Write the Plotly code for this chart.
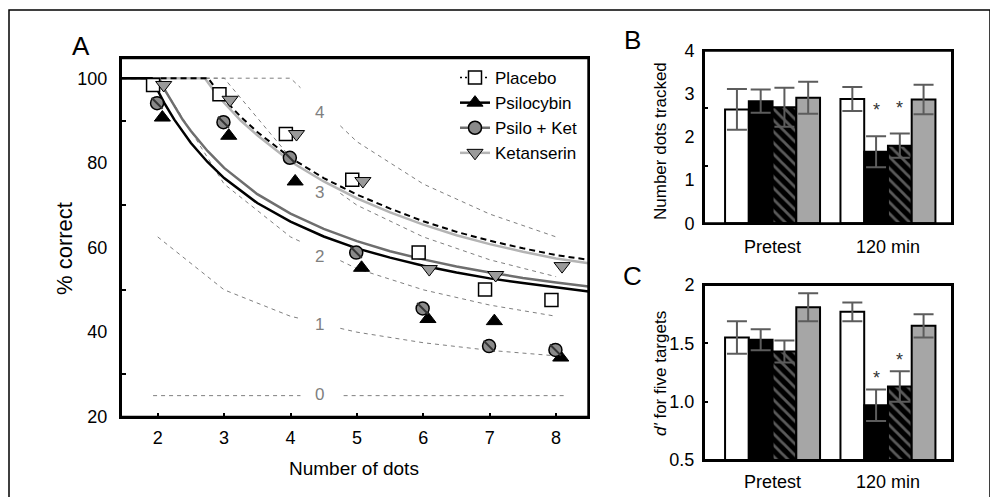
import plotly.graph_objects as go

# The page body has an 8px margin, so the figure is drawn 8px in from the window corner.
OFF = 8
WIN_W, WIN_H = 998, 497
W, H = WIN_W - OFF, WIN_H - OFF
FONT = "Liberation Sans, Arial, sans-serif"

# ---------------- Panel A data ----------------
n_dots = [2, 3, 4, 5, 6, 7, 8]
placebo = [98.4, 96.2, 86.8, 76.0, 58.8, 50.1, 47.6]
psilocybin = [90.7, 86.4, 75.6, 55.2, 43.1, 42.6, 34.0]
psilo_ket = [94.1, 89.6, 81.2, 58.8, 45.6, 36.7, 35.8]
ketanserin = [98.4, 94.9, 86.8, 75.7, 54.9, 53.5, 55.6]

# fitted curves
placebo_fit_x = [1.44, 2.76, 2.9, 3.0, 3.25, 3.5, 4.0, 4.5, 5.0, 5.5, 6.0, 6.5, 7.0, 7.5, 8.0, 8.49]
placebo_fit_y = [100, 100, 97.0, 95.0, 90.9, 87.3, 81.2, 76.4, 72.5, 69.2, 66.2, 63.7, 61.6, 59.8, 58.2, 57.1]
psilocybin_fit_x = [1.44, 1.91, 2.0, 2.1, 2.25, 2.375, 2.5, 2.75, 3.0, 3.5, 4.0, 4.5, 5.0, 5.5, 6.0, 6.5, 7.0, 7.5, 8.0, 8.49]
psilocybin_fit_y = [100, 100, 97.1, 94.1, 90.2, 87.3, 84.7, 80.2, 76.4, 70.5, 66.1, 62.6, 59.8, 57.6, 55.7, 54.1, 52.7, 51.6, 50.5, 49.6]
psilo_ket_fit_x = [1.44, 2.02, 2.1, 2.25, 2.375, 2.5, 2.75, 3.0, 3.5, 4.0, 4.5, 5.0, 5.5, 6.0, 6.5, 7.0, 7.5, 8.0, 8.49]
psilo_ket_fit_y = [100, 100, 97.4, 93.3, 90.2, 87.5, 82.8, 78.8, 72.6, 68.0, 64.4, 61.5, 59.1, 57.2, 55.5, 54.1, 52.8, 51.75, 50.8]
ketanserin_fit_x = [1.44, 2.71, 2.85, 3.0, 3.25, 3.5, 4.0, 4.5, 5.0, 5.5, 6.0, 6.5, 7.0, 7.5, 8.0, 8.49]
ketanserin_fit_y = [100, 100, 97.0, 94.2, 90.0, 86.5, 80.3, 75.6, 71.6, 68.3, 65.4, 62.9, 60.8, 59.0, 57.4, 56.3]

# capacity reference curves (K = 0..4), broken around their labels
cap_x = [2, 3, 4, 4.15, None, 4.75, 5, 6, 7, 8]
cap0_x = [1.93, 4.15, None, 4.8, 8.12]
cap0_y = [25, 25, None, 25, 25]
cap1_y = [62.5, 50.0, 43.75, 43.2, None, 40.9, 40.0, 37.5, 35.7, 34.4]
cap2_y = [100, 75.0, 62.5, 61.4, None, 56.9, 55.0, 50.0, 46.4, 43.75]
cap3_y = [100, 100, 81.25, 79.6, None, 72.8, 70.0, 62.5, 57.1, 53.1]
cap4_y = [100, 100, 100, 97.75, None, 88.75, 85.0, 75.0, 67.9, 62.5]
cap_labels = ["0", "1", "2", "3", "4"]
cap_label_y = [25.2, 41.7, 57.8, 72.9, 91.8]

# ---------------- Panels B / C data ----------------
groups = ["Pretest", "120 min"]
conditions = ["Placebo", "Psilocybin", "Psilo + Ket", "Ketanserin"]
tracked_pre = [2.64, 2.83, 2.69, 2.91]
tracked_pre_err = [0.47, 0.27, 0.45, 0.37]
tracked_120 = [2.88, 1.66, 1.80, 2.87]
tracked_120_err = [0.28, 0.36, 0.28, 0.34]
dprime_pre = [1.55, 1.53, 1.43, 1.81]
dprime_pre_err = [0.14, 0.09, 0.095, 0.12]
dprime_120 = [1.77, 0.97, 1.13, 1.65]
dprime_120_err = [0.08, 0.135, 0.13, 0.10]
significant = [False, True, True, False]  # at 120 min


def fx(x):  # window pixel -> paper fraction
    return (x - OFF) / W


def fy(y):
    return 1 - (y - OFF) / H


# panel boxes in window pixels (left, top, right, bottom)
box_a = (121, 58.3, 588.3, 416.8)
box_b = (704, 50.7, 952, 223.3)
box_c = (704, 285, 952, 460)

fig = go.Figure()

# capacity curves
cap_line = dict(color="#7f7f7f", width=1, dash="4px,4px")
fig.add_trace(go.Scatter(x=cap0_x, y=cap0_y, mode="lines", line=cap_line, showlegend=False, hoverinfo="skip"))
for cy in [cap1_y, cap2_y, cap3_y, cap4_y]:
    fig.add_trace(go.Scatter(x=cap_x, y=cy, mode="lines", line=cap_line, showlegend=False, hoverinfo="skip"))

# fitted curves
fig.add_trace(go.Scatter(x=ketanserin_fit_x, y=ketanserin_fit_y, mode="lines",
                         line=dict(color="#b4b4b4", width=2.5), showlegend=False))
fig.add_trace(go.Scatter(x=placebo_fit_x, y=placebo_fit_y, mode="lines",
                         line=dict(color="black", width=2, dash="6px,4px"), showlegend=False))
fig.add_trace(go.Scatter(x=psilo_ket_fit_x, y=psilo_ket_fit_y, mode="lines",
                         line=dict(color="#6e6e6e", width=2.5), showlegend=False))
fig.add_trace(go.Scatter(x=psilocybin_fit_x, y=psilocybin_fit_y, mode="lines",
                         line=dict(color="black", width=2.5), showlegend=False))

# data markers (small horizontal offsets as in the original)
styles = {
    "Placebo": dict(symbol="square", size=13, color="white", line=dict(color="black", width=1.5)),
    "Psilocybin": dict(symbol="triangle-up", size=14, color="black", line=dict(color="black", width=1)),
    "Psilo + Ket": dict(symbol="circle", size=13, color="#8a8a8a", line=dict(color="black", width=1.5)),
    "Ketanserin": dict(symbol="triangle-down", size=14, color="#9a9a9a", line=dict(color="black", width=1)),
}
offsets = {"Placebo": -0.07, "Psilocybin": 0.07, "Psilo + Ket": -0.01, "Ketanserin": 0.09}
series = {"Placebo": placebo, "Psilocybin": psilocybin, "Psilo + Ket": psilo_ket, "Ketanserin": ketanserin}
for name in conditions:
    xs = [n + offsets[name] for n in n_dots]
    fig.add_trace(go.Scatter(x=xs, y=series[name], mode="markers", marker=styles[name],
                             showlegend=False, name=name))
    if name == "Psilo + Ket":
        fig.add_trace(go.Scatter(x=xs, y=series[name], mode="markers",
                                 marker=dict(symbol="line-nw", size=11, line=dict(color="#333333", width=2)),
                                 showlegend=False, hoverinfo="skip"))

# legend-only entries
leg_lines = {
    "Placebo": dict(color="black", width=1.5, dash="2px,3px"),
    "Psilocybin": dict(color="black", width=2.5),
    "Psilo + Ket": dict(color="#6e6e6e", width=2.5),
    "Ketanserin": dict(color="#b4b4b4", width=2.5),
}
for name in conditions:
    fig.add_trace(go.Scatter(x=[None], y=[None], mode="lines+markers", name=name,
                             line=leg_lines[name], marker=styles[name], showlegend=True))

# bars
bar_fill = {"Placebo": dict(color="white"), "Psilocybin": dict(color="black"),
            "Psilo + Ket": dict(color="black", pattern=dict(shape="\\", bgcolor="black", fgcolor="#b4b4b4",
                                                            size=8, solidity=0.35)),
            "Ketanserin": dict(color="#a6a6a6")}
err_style = dict(type="data", color="#5c5c5c", thickness=2, width=10)
for i, name in enumerate(conditions):
    m = dict(bar_fill[name]); m["line"] = dict(color="black", width=2)
    fig.add_trace(go.Bar(x=[0, 1], y=[tracked_pre[i], tracked_120[i]], marker=m,
                         error_y=dict(err_style, array=[tracked_pre_err[i], tracked_120_err[i]]),
                         xaxis="x2", yaxis="y2", showlegend=False, name=name))
    fig.add_trace(go.Bar(x=[0, 1], y=[dprime_pre[i], dprime_120[i]], marker=m,
                         error_y=dict(err_style, array=[dprime_pre_err[i], dprime_120_err[i]]),
                         xaxis="x3", yaxis="y3", showlegend=False, name=name))

ann = []
for lab, ly in zip(cap_labels, cap_label_y):
    ann.append(dict(x=4.44, y=ly, xref="x", yref="y", text=lab, showarrow=False,
                    xanchor="center", yanchor="middle", font=dict(size=17, color="#7f7f7f")))
bar_w = (1 - 0.177) / 4
for i, name in enumerate(conditions):
    if significant[i]:
        xo = 1 + (i - 1.5) * bar_w
        ann.append(dict(x=xo, y=tracked_120[i] + tracked_120_err[i], xref="x2", yref="y2", text="*",
                        showarrow=False, yshift=26, xanchor="center", yanchor="middle",
                        font=dict(size=18, color="#333")))
        ann.append(dict(x=xo, y=dprime_120[i] + dprime_120_err[i], xref="x3", yref="y3", text="*",
                        showarrow=False, yshift=11, xanchor="center", yanchor="middle",
                        font=dict(size=18, color="#333")))

for txt, (x, y), size, ang in [("A", (81, 46), 26, 0), ("B", (632, 40), 26, 0), ("C", (632, 276), 26, 0),
                               ("% correct", (64, 249), 22, -90), ("Number of dots", (354, 468), 19, 0),
                               ("Number dots tracked", (660, 141), 17, -90),
                               ("<i>d'</i> for five targets", (660, 374), 17, -90)]:
    ann.append(dict(x=fx(x), y=fy(y), xref="paper", yref="paper", text=txt, showarrow=False, textangle=ang,
                    xanchor="center", yanchor="middle", font=dict(size=size, color="black")))

axis_common = dict(showline=True, linecolor="black", linewidth=2, mirror=True, showgrid=False,
                   zeroline=False, automargin=False, tickfont=dict(size=18, color="black"))

frame = dict(color="black", width=2)
shapes = [dict(type="rect", xref="paper", yref="paper", x0=fx(9), x1=fx(990), y0=-0.1, y1=fy(10),
               line=dict(color="black", width=1.5))]
for (l, t, r, b) in [box_a, box_b, box_c]:
    shapes.append(dict(type="rect", xref="paper", yref="paper", x0=fx(l), x1=fx(r), y0=fy(b), y1=fy(t),
                       line=frame, layer="above"))

fig.update_layout(
    width=W, height=H, margin=dict(l=0, r=0, t=0, b=0, autoexpand=False),
    paper_bgcolor="white", plot_bgcolor="white",
    font=dict(family=FONT, color="black"),
    barmode="group", bargap=0.177, bargroupgap=0,
    xaxis=dict(axis_common, domain=[fx(box_a[0]), fx(box_a[2])], range=[1.447, 8.485], tickvals=n_dots,
               ticks="inside", ticklen=4, tickwidth=1.5, tickcolor="black", ticklabelstandoff=4),
    yaxis=dict(axis_common, domain=[fy(box_a[3]), fy(box_a[1])], range=[20, 104.7],
               tickvals=[20, 40, 60, 80, 100], ticks="", ticklabelstandoff=8,
               minor=dict(tickvals=[30, 50, 70, 90], ticks="inside", ticklen=5, tickwidth=1.5, tickcolor="black")),
    xaxis2=dict(axis_common, domain=[fx(box_b[0]), fx(box_b[2])], range=[-0.594, 1.555], tickvals=[0, 1],
                ticktext=groups, ticks="", anchor="y2", ticklabelstandoff=6),
    yaxis2=dict(axis_common, domain=[fy(box_b[3]), fy(box_b[1])], range=[0, 4], tickvals=[0, 1, 2, 3, 4],
                ticks="", anchor="x2", ticklabelstandoff=4,
                minor=dict(tickvals=[4 / 3, 8 / 3], ticks="inside", ticklen=4, tickwidth=1.5, tickcolor="black")),
    xaxis3=dict(axis_common, domain=[fx(box_c[0]), fx(box_c[2])], range=[-0.594, 1.555], tickvals=[0, 1],
                ticktext=groups, ticks="", anchor="y3", ticklabelstandoff=4),
    yaxis3=dict(axis_common, domain=[fy(box_c[3]), fy(box_c[1])], range=[0.5, 2], tickvals=[0.5, 1, 1.5, 2],
                ticktext=["0.5", "1.0", "1.5", "2"], ticks="", anchor="x3", ticklabelstandoff=4,
                minor=dict(tickvals=[1.0, 1.5], ticks="inside", ticklen=4, tickwidth=1.5, tickcolor="black")),
    legend=dict(x=fx(455), y=fy(60), xanchor="left", yanchor="top", bgcolor="rgba(0,0,0,0)",
                font=dict(size=17), tracegroupgap=0),
    annotations=ann,
    shapes=shapes,
)

fig.write_html("out.html")
